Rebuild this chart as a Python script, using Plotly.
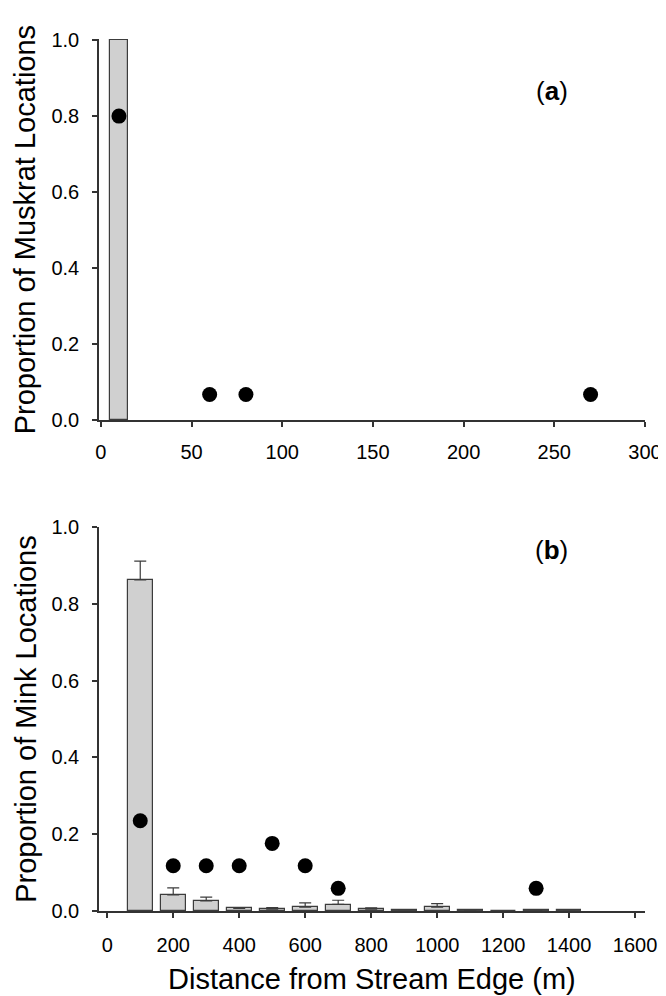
import plotly.graph_objects as go

# ---- Panel (a): muskrat ----
musk_bar_x = [10]
musk_bar_y = [1.0]
musk_dot_x = [10, 60, 80, 270]
musk_dot_y = [0.80, 0.067, 0.067, 0.067]

# ---- Panel (b): mink ----
mink_bar_x = [100, 200, 300, 400, 500, 600, 700, 800, 900, 1000, 1100, 1200, 1300, 1400]
mink_bar_y = [0.862, 0.042, 0.026, 0.007, 0.005, 0.010, 0.017, 0.005, 0.0026, 0.010, 0.002, 0.0, 0.0017, 0.0026]
mink_bar_err = [0.049, 0.018, 0.010, 0.002, 0.004, 0.011, 0.011, 0.003, 0.001, 0.009, 0.0, 0.0, 0.0, 0.001]
mink_dot_x = [100, 200, 300, 400, 500, 600, 700, 1300]
mink_dot_y = [0.235, 0.118, 0.118, 0.118, 0.176, 0.118, 0.059, 0.059]

top_xticks = [0, 50, 100, 150, 200, 250, 300]
bot_xticks = [0, 200, 400, 600, 800, 1000, 1200, 1400, 1600]
yticks = [0.0, 0.2, 0.4, 0.6, 0.8, 1.0]

FONT = "Liberation Sans, Arial, sans-serif"
AX = "#333333"
BAR_FILL = "#d0d0d0"
BAR_LINE = "#3c3c3c"

fig = go.Figure()

fig.add_trace(go.Bar(x=musk_bar_x, y=musk_bar_y, width=10,
                     marker=dict(color=BAR_FILL, line=dict(color=BAR_LINE, width=1.2)),
                     xaxis="x", yaxis="y", showlegend=False))
fig.add_trace(go.Scatter(x=musk_dot_x, y=musk_dot_y, mode="markers",
                         marker=dict(color="black", size=15),
                         xaxis="x", yaxis="y", showlegend=False))

fig.add_trace(go.Bar(x=mink_bar_x, y=mink_bar_y, width=75,
                     marker=dict(color=BAR_FILL, line=dict(color=BAR_LINE, width=1.2)),
                     error_y=dict(type="data", symmetric=False, array=mink_bar_err,
                                  arrayminus=[0] * len(mink_bar_err),
                                  color=BAR_LINE, thickness=1.2, width=6),
                     xaxis="x2", yaxis="y2", showlegend=False))
fig.add_trace(go.Scatter(x=mink_dot_x, y=mink_dot_y, mode="markers",
                         marker=dict(color="black", size=15),
                         xaxis="x2", yaxis="y2", showlegend=False))

common_axis = dict(showgrid=False, zeroline=False, showline=True, linecolor=AX, linewidth=1.5,
                   ticks="outside", ticklen=5, tickwidth=1.5, tickcolor=AX,
                   tickfont=dict(family=FONT, size=20, color="black"))

top_dom = [0.5631, 1.0]
bot_dom = [0.0, 0.4404]

fig.update_layout(
    width=666, height=996,
    margin=dict(l=91, r=22, t=31, b=93),
    paper_bgcolor="white", plot_bgcolor="white",
    bargap=0,
    xaxis=dict(domain=[0, 1], anchor="y", range=[-1, 300], tickvals=top_xticks,
               ticklabelstandoff=8, **common_axis),
    yaxis=dict(domain=top_dom, anchor="x", range=[0, 1.003], tickvals=yticks,
               tickformat=".1f", ticklabelstandoff=9, **common_axis),
    xaxis2=dict(domain=[0, 1], anchor="y2", range=[-25, 1630], tickvals=bot_xticks,
                ticklabelstandoff=10, **common_axis),
    yaxis2=dict(domain=bot_dom, anchor="x2", range=[0, 1.0], tickvals=yticks,
                tickformat=".1f", ticklabelstandoff=9, **common_axis),
    annotations=[
        dict(text="(<b>a</b>)", x=249, y=0.865, xref="x", yref="y", showarrow=False,
             font=dict(family=FONT, size=26, color="black")),
        dict(text="(<b>b</b>)", x=1348, y=0.94, xref="x2", yref="y2", showarrow=False,
             font=dict(family=FONT, size=26, color="black")),
        dict(text="Proportion of Muskrat Locations", x=-0.134, y=(top_dom[0] + top_dom[1]) / 2,
             xref="paper", yref="paper", textangle=-90, showarrow=False,
             xanchor="center", yanchor="middle", borderpad=0,
             font=dict(family=FONT, size=29, color="black")),
        dict(text="Proportion of Mink Locations", x=-0.134, y=(bot_dom[0] + bot_dom[1]) / 2,
             xref="paper", yref="paper", textangle=-90, showarrow=False,
             xanchor="center", yanchor="middle", borderpad=0,
             font=dict(family=FONT, size=29, color="black")),
        dict(text="Distance from Stream Edge (m)", x=0.5, y=-0.0785,
             xref="paper", yref="paper", showarrow=False,
             xanchor="center", yanchor="middle", borderpad=0,
             font=dict(family=FONT, size=29, color="black")),
    ],
)

fig.write_html("out.html")
